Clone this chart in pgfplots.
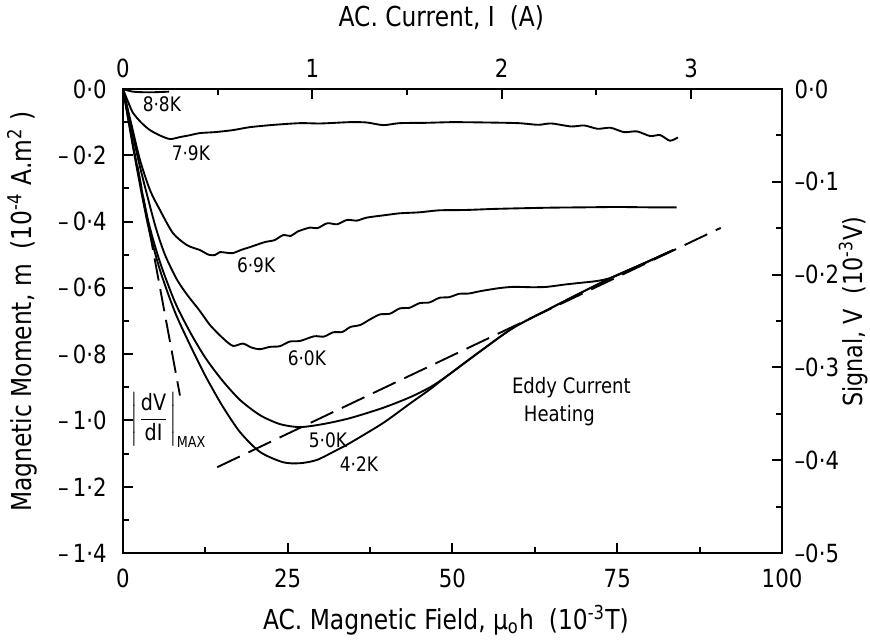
\documentclass[border=0pt]{standalone}
\usepackage{fontspec}
\setmainfont{DejaVu Sans}[FakeStretch=0.85]
\usepackage{amsmath}
\usepackage{pgfplots}
\pgfplotsset{compat=1.18}

\pgfplotsset{
  every axis/.append style={
    scale only axis, width=263.6pt, height=185.6pt,
    tick align=inside,
    major tick length=4pt, minor tick length=2.4pt,
    every tick/.style={black, line width=0.8pt},
    axis line style={line width=0.8pt},
    tick label style={font=\fontsize{10}{12}\selectfont},
    label style={font=\fontsize{11}{13}\selectfont},
    /pgf/number format/assume math mode=true,
  },
  curve/.style={black, line width=0.75pt, smooth, tension=0.45},
  eddy/.style={black, line width=0.75pt, dash pattern=on 10pt off 3.8pt},
}

\begin{document}
\begin{tikzpicture}
\begin{axis}[
  name=main,
  xmin=0, xmax=100, ymin=-1.4, ymax=0,
  clip=false,
  xtick pos=bottom, ytick pos=left,
  xtick={0,25,50,75,100}, minor xtick={12.5,37.5,62.5,87.5},
  ytick={-1.4,-1.2,-1,-0.8,-0.6,-0.4,-0.2,0},
  yticklabels={–\,1·4,–\,1·2,–\,1·0,–\,0·8,–\,0·6,–\,0·4,–\,0·2,0·0},
  minor ytick={-1.3,-1.1,-0.9,-0.7,-0.5,-0.3,-0.1},
  yticklabel style={xshift=-3pt},
  xticklabel style={yshift=-3pt},
  xlabel={AC. Magnetic Field, μ\textsubscript{o}h\ \ (10\textsuperscript{-3}T)},
  ylabel={Magnetic Moment, m\ \ (10\textsuperscript{-4} A.m\textsuperscript{2} )},
  xlabel style={at={(axis description cs:0.49,-0.144)}, anchor=center},
  ylabel style={at={(axis description cs:-0.153,0.52)}, anchor=center},
]
% 8.8 K
\addplot[curve] coordinates {(0,0) (1.5,-0.008) (4,-0.01) (7,-0.008)};
% 7.9 K
\addplot[curve] coordinates {
  (0,0) (0.8,-0.04) (1.52,-0.072) (2.8,-0.102) (4.1,-0.124) (5.6,-0.140)
  (7.13,-0.151) (8.65,-0.145) (10,-0.140) (11.68,-0.133) (14,-0.130)
  (16.7,-0.124) (19.3,-0.115) (23,-0.108) (26.9,-0.103) (30,-0.104)
  (34.4,-0.100) (37,-0.101) (39.5,-0.109) (42,-0.103) (46,-0.102)
  (50,-0.100) (55,-0.101) (60,-0.103) (63,-0.108) (65,-0.104) (68,-0.113)
  (70,-0.110) (72,-0.120) (74,-0.117) (76,-0.130) (78,-0.128) (80,-0.142)
  (81.5,-0.139) (83,-0.156) (84.2,-0.146)};
% 6.9 K
\addplot[curve] coordinates {
  (0,0) (1.2,-0.1) (2.58,-0.214) (4.1,-0.305) (5.61,-0.365) (7.59,-0.435)
  (9.71,-0.471) (11.68,-0.486) (13,-0.50) (13.96,-0.501) (14.72,-0.492)
  (15.7,-0.494) (16.69,-0.495) (18,-0.485) (19.27,-0.477) (21.5,-0.462)
  (23,-0.456) (24.28,-0.441) (25.5,-0.443) (26.5,-0.430) (28.38,-0.418)
  (29.5,-0.420) (31,-0.405) (32.5,-0.408) (34,-0.395) (35.5,-0.397)
  (37,-0.388) (40,-0.380) (42,-0.375) (45,-0.372) (48,-0.366) (52,-0.365)
  (56,-0.362) (60,-0.360) (65,-0.358) (70,-0.357) (75,-0.356) (80,-0.357)
  (84,-0.357)};
% 6.0 K
\addplot[curve] coordinates {
  (0,0) (1.2,-0.11) (2.58,-0.235) (4.86,-0.41) (6.37,-0.50) (8.19,-0.575)
  (9.71,-0.62) (11.68,-0.67) (13.2,-0.712) (15.17,-0.752) (16.69,-0.775)
  (18.2,-0.768) (19.5,-0.78) (20.8,-0.785) (22.3,-0.778) (23.8,-0.776)
  (25.3,-0.762) (26.9,-0.760) (29,-0.746) (30.5,-0.747) (31.9,-0.734)
  (33.3,-0.733) (34.5,-0.718) (36,-0.712) (37.5,-0.695) (39,-0.680)
  (40.5,-0.678) (42,-0.662) (43.5,-0.660) (45,-0.646) (46.5,-0.644)
  (48,-0.630) (49.5,-0.628) (51,-0.618) (52.5,-0.617) (54.2,-0.610)
  (57,-0.601) (59.2,-0.597) (62,-0.598) (64.3,-0.597) (67,-0.590)
  (69.3,-0.585) (72,-0.579) (74.4,-0.567) (79.5,-0.522) (83.5,-0.486)};
% 5.0 K
\addplot[curve] coordinates {
  (0,0) (1.82,-0.199) (3.79,-0.395) (5.61,-0.522) (7.89,-0.643)
  (10.17,-0.733) (12.44,-0.809) (15.02,-0.878) (17.75,-0.938)
  (20.79,-0.984) (23.82,-1.011) (26.86,-1.020) (30.35,-1.011)
  (34.45,-0.993) (39.45,-0.962) (43.55,-0.930) (46.59,-0.900)
  (49.17,-0.866) (54.17,-0.792) (59.18,-0.721) (64.34,-0.667)
  (69.35,-0.616) (74.36,-0.567) (79.51,-0.522) (83.46,-0.486)};
% 4.2 K
\addplot[curve] coordinates {
  (0,0) (1.82,-0.208) (3.79,-0.410) (5.61,-0.546) (7.89,-0.673)
  (10.17,-0.772) (12.44,-0.863) (15.02,-0.954) (17.75,-1.035)
  (20.79,-1.095) (24.28,-1.126) (26.86,-1.129) (29.44,-1.119)
  (32.47,-1.089) (34.45,-1.068) (39.45,-1.008) (43.55,-0.949)
  (46.59,-0.906) (49.17,-0.866) (54.17,-0.792) (59.18,-0.721)
  (64.34,-0.667) (69.35,-0.616) (74.36,-0.567) (79.51,-0.522)
  (83.46,-0.486)};
% eddy current heating line
\addplot[eddy] coordinates {(14.3,-1.141) (90.7,-0.419)};
% |dV/dI| max tangent
\addplot[eddy, dash pattern=on 9pt off 3.5pt] coordinates {(2.2,-0.233) (8.65,-0.925)};

\begin{scope}[font=\fontsize{8}{10}\selectfont]
\node at (axis cs:5.9,-0.045) {8·8K};
\node at (axis cs:10.3,-0.193) {7·9K};
\node at (axis cs:20.2,-0.531) {6·9K};
\node at (axis cs:27.9,-0.812) {6·0K};
\node at (axis cs:31.1,-1.059) {5·0K};
\node at (axis cs:35.8,-1.132) {4·2K};
\end{scope}
\node[anchor=west, font=\fontsize{8.5}{10}\selectfont] at (axis cs:57.7,-0.902) {Eddy Current};
\node[anchor=west, font=\fontsize{8.5}{10}\selectfont] at (axis cs:59.5,-0.984) {Heating};
\node[font=\fontsize{9}{10}\selectfont, inner sep=0pt] at (axis cs:6.9,-0.999)
  {$\displaystyle\left|\frac{\text{dV}}{\text{dI}}\right|_{\text{\fontsize{6}{7}\selectfont MAX}}$};

\coordinate (bl) at (rel axis cs:-0.1866,-0.1897);
\coordinate (tr) at (rel axis cs:1.1335,1.1918);
\end{axis}

\begin{axis}[
  xmin=0, xmax=3.48, ymin=-0.5, ymax=0,
  axis x line*=top, axis y line*=right,
  xtick={0,1,2,3}, minor xtick={0.5,1.5,2.5},
  ytick={-0.5,-0.4,-0.3,-0.2,-0.1,0},
  yticklabels={–0·5,–0·4,–0·3,–0·2,–0·1,0·0},
  minor ytick={-0.45,-0.35,-0.25,-0.15,-0.05},
  yticklabel style={xshift=1.5pt},
  xticklabel style={yshift=1pt},
  xlabel={AC. Current, I\ \ (A)},
  ylabel={Signal, V\ \ (10\textsuperscript{-3}V)},
  xlabel style={at={(axis description cs:0.483,1.153)}, anchor=center},
  ylabel style={at={(axis description cs:1.108,0.52)}, anchor=center, rotate=0,
    font=\fontsize{10.5}{12}\selectfont},
]
\addplot[draw=none] coordinates {(0,0)};
\end{axis}
\pgfresetboundingbox
\useasboundingbox (bl) rectangle (tr);
\end{tikzpicture}
\end{document}
